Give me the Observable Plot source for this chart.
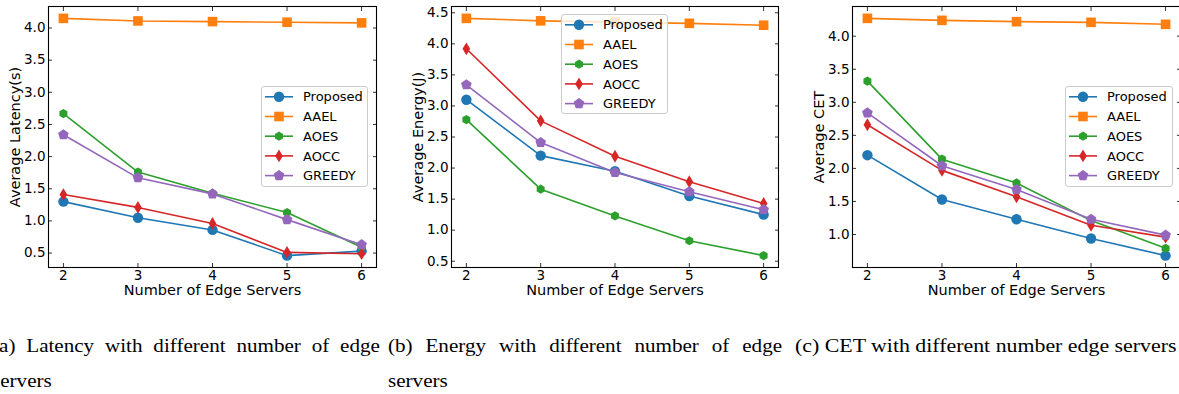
<!DOCTYPE html>
<html><head><meta charset="utf-8">
<script src="https://cdn.jsdelivr.net/npm/d3@7"></script>
<script src="https://cdn.jsdelivr.net/npm/@observablehq/plot@0.6"></script>
<style>
html,body{margin:0;padding:0;background:#fff;}
body{width:1179px;height:394px;overflow:hidden;position:relative;}
.panel{position:absolute;top:0;}
.panel svg{overflow:visible;}
.legend{position:absolute;background:rgba(255,255,255,0.8);border:1px solid #cccccc;border-radius:3px;box-sizing:border-box;}
.legend svg{position:absolute;left:-1px;top:-1px;overflow:visible;}
.cap{position:absolute;top:328px;font-family:"Liberation Serif","Times New Roman",serif;font-size:19px;line-height:35px;color:#000;transform:scaleX(1.11);transform-origin:0 0;}
.cap.j{text-align:justify;}
</style></head><body>
<script>
// ---- data ----
const servers = [2, 3, 4, 5, 6];
const seriesNames = ["Proposed", "AAEL", "AOES", "AOCC", "GREEDY"];

const latencyProposed = [1.30, 1.05, 0.86, 0.46, 0.53];
const latencyAAEL     = [4.15, 4.11, 4.10, 4.09, 4.08];
const latencyAOES     = [2.67, 1.76, 1.43, 1.13, 0.59];
const latencyAOCC     = [1.41, 1.21, 0.96, 0.51, 0.49];
const latencyGREEDY   = [2.34, 1.67, 1.42, 1.02, 0.63];

const energyProposed = [3.10, 2.20, 1.95, 1.55, 1.25];
const energyAAEL     = [4.41, 4.37, 4.35, 4.33, 4.30];
const energyAOES     = [2.78, 1.66, 1.23, 0.83, 0.59];
const energyAOCC     = [3.92, 2.76, 2.19, 1.78, 1.43];
const energyGREEDY   = [3.34, 2.41, 1.93, 1.62, 1.33];

const cetProposed = [2.20, 1.53, 1.23, 0.94, 0.68];
const cetAAEL     = [4.27, 4.24, 4.22, 4.21, 4.18];
const cetAOES     = [3.32, 2.14, 1.78, 1.21, 0.79];
const cetAOCC     = [2.66, 1.97, 1.57, 1.14, 0.96];
const cetGREEDY   = [2.84, 2.04, 1.68, 1.23, 0.99];

const latencyTicks = [0.5, 1.0, 1.5, 2.0, 2.5, 3.0, 3.5, 4.0];
const energyTicks  = [0.5, 1.0, 1.5, 2.0, 2.5, 3.0, 3.5, 4.0, 4.5];
const cetTicks     = [1.0, 1.5, 2.0, 2.5, 3.0, 3.5, 4.0];

const xLabel = "Number of Edge Servers";
const yLabels = ["Average Latency(s)", "Average Energy(J)", "Average CET"];
const captions = [
  "(a) Latency with different number of edge servers",
  "(b) Energy with different number of edge servers",
  "(c) CET with different number edge servers"
];

// ---- styles ----
const colors = ["#1f77b4", "#ff7f0e", "#2ca02c", "#d62728", "#9467bd"];
const rad = s => Math.sqrt(s / Math.PI);
const symSquare = {draw(c, s){ const r = rad(s); c.rect(-r, -r, 2*r, 2*r); }};
const symHex = {draw(c, s){ const r = rad(s); for (let k=0;k<6;k++){ const a = -Math.PI/2 + k*Math.PI/3; k? c.lineTo(r*Math.cos(a), r*Math.sin(a)) : c.moveTo(r*Math.cos(a), r*Math.sin(a)); } c.closePath(); }};
const symThinDiamond = {draw(c, s){ const r = rad(s); c.moveTo(0,-r); c.lineTo(r*0.6,0); c.lineTo(0,r); c.lineTo(-r*0.6,0); c.closePath(); }};
const symPent = {draw(c, s){ const r = rad(s); for (let k=0;k<5;k++){ const a = -Math.PI/2 + k*2*Math.PI/5; k? c.lineTo(r*Math.cos(a), r*Math.sin(a)) : c.moveTo(r*Math.cos(a), r*Math.sin(a)); } c.closePath(); }};
const symbols = ["circle", symSquare, symHex, symThinDiamond, symPent];
const legendSymbols = [d3.symbolCircle, symSquare, symHex, symThinDiamond, symPent];
const markerR = [5.2, 4.8, 4.6, 6.4, 5.6];

function makePanel(cfg){
  const rows = seriesNames.flatMap((s, i) => cfg.values[i].map((v, j) => ({series: s, x: servers[j], y: v})));
  const ys = rows.map(d => d.y);
  const lo = d3.min(ys), hi = d3.max(ys), pad = (hi - lo) * 0.05;
  const marks = [
    Plot.axisX({anchor: "bottom", ticks: servers, tickSize: -4, tickPadding: 7, tickFormat: "d", label: null, fontSize: 13.5, strokeWidth: 0.8}),
    Plot.axisX({anchor: "top", ticks: servers, tickSize: -4, tickFormat: () => "", label: null, strokeWidth: 0.8}),
    Plot.axisY({anchor: "left", ticks: cfg.ticks, tickSize: -4, tickPadding: 7, tickFormat: ".1f", label: null, fontSize: 13.5, strokeWidth: 0.8}),
    Plot.axisY({anchor: "right", ticks: cfg.ticks, tickSize: -4, tickFormat: () => "", label: null, strokeWidth: 0.8}),
    Plot.text([xLabel], {text: d => d, frameAnchor: "bottom", textAnchor: "middle", dy: 23, lineAnchor: "middle", fontSize: 14.5}),
    Plot.text([cfg.ylabel], {text: d => d, frameAnchor: "left", textAnchor: "middle", rotate: -90, dx: -33.5, lineAnchor: "middle", fontSize: 14.5})
  ];
  seriesNames.forEach((s, i) => {
    const d = rows.filter(r => r.series === s);
    marks.push(Plot.line(d, {x: "x", y: "y", stroke: colors[i], strokeWidth: 1.6}));
    marks.push(Plot.dot(d, {x: "x", y: "y", fill: colors[i], stroke: "none", r: markerR[i], symbol: symbols[i]}));
  });
  marks.push(Plot.frame({stroke: "#000", strokeWidth: 1.1}));
  const chart = Plot.plot({
    width: cfg.width, height: 300,
    marginLeft: cfg.ml, marginRight: cfg.mr, marginTop: 6, marginBottom: 33,
    x: {domain: [servers[0] - 0.2, servers[servers.length - 1] + 0.2]},
    y: {domain: [lo - pad, hi + pad]},
    style: {fontFamily: "'DejaVu Sans', sans-serif", color: "#000", background: "transparent", overflow: "visible"},
    marks
  });
  const div = document.createElement("div");
  div.className = "panel";
  div.style.left = cfg.left + "px";
  div.style.width = cfg.width + "px";
  div.appendChild(chart);
  addLegend(div, cfg.lg);
  document.body.appendChild(div);
}

function addLegend(container, [lx, ly, w, h]){
  const div = document.createElement("div");
  div.className = "legend";
  Object.assign(div.style, {left: lx + "px", top: ly + "px", width: w + "px", height: h + "px"});
  const svg = d3.select(div).append("svg").attr("width", w).attr("height", h);
  seriesNames.forEach((s, i) => {
    const cy = 10.8 + i * 19.7;
    const g = svg.append("g");
    g.append("line").attr("x1", 4).attr("x2", 32).attr("y1", cy).attr("y2", cy).attr("stroke", colors[i]).attr("stroke-width", 1.6);
    g.append("path").attr("transform", `translate(18,${cy})`).attr("fill", colors[i])
      .attr("d", d3.symbol(legendSymbols[i], Math.PI * markerR[i] * markerR[i])());
    g.append("text").attr("x", 42).attr("y", cy).attr("dy", "0.36em").attr("font-family", "'DejaVu Sans', sans-serif")
      .attr("font-size", 13).attr("fill", "#000").text(s);
  });
  container.appendChild(div);
}

makePanel({left: 0, width: 390, ml: 48, mr: 14, ticks: latencyTicks, ylabel: yLabels[0],
  values: [latencyProposed, latencyAAEL, latencyAOES, latencyAOCC, latencyGREEDY], lg: [261, 86, 107, 101]});
makePanel({left: 390, width: 400, ml: 61, mr: 12, ticks: energyTicks, ylabel: yLabels[1],
  values: [energyProposed, energyAAEL, energyAOES, energyAOCC, energyGREEDY], lg: [171, 14, 107, 100]});
makePanel({left: 790, width: 392, ml: 62, mr: 2, ticks: cetTicks, ylabel: yLabels[2],
  values: [cetProposed, cetAAEL, cetAOES, cetAOCC, cetGREEDY], lg: [275, 86, 108, 101]});

const capSpecs = [[-8, 349.5, true, 1.11], [388, 355, true, 1.11], [795, 360, false, 1.15]];
captions.forEach((t, i) => {
  const d = document.createElement("div");
  d.className = "cap" + (capSpecs[i][2] ? " j" : "");
  d.style.left = capSpecs[i][0] + "px";
  d.style.width = capSpecs[i][1] + "px";
  d.style.transform = `scaleX(${capSpecs[i][3]})`;
  if (!capSpecs[i][2]) d.style.whiteSpace = "nowrap";
  d.textContent = t;
  document.body.appendChild(d);
});
</script>
</body></html>
